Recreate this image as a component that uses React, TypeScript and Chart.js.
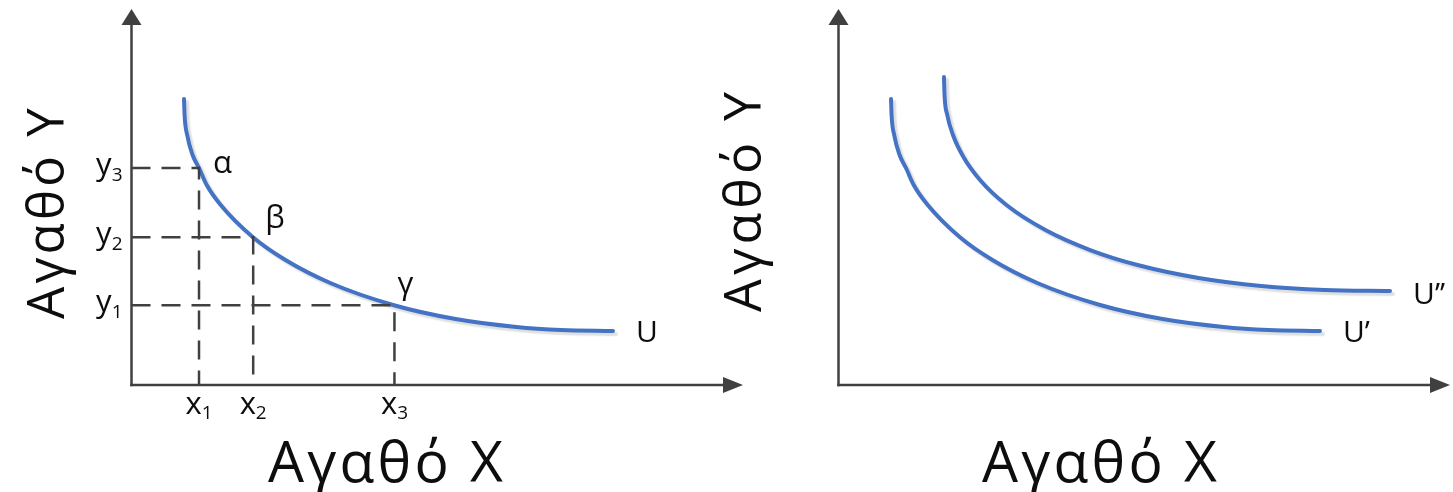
import React, { useEffect, useRef } from 'react';
import { Chart, registerables } from 'chart.js';

Chart.register(...registerables);

const FONT = '"Open Sans", "Noto Sans", "DejaVu Sans", sans-serif';
const BLUE = '#4472C4';
const DARK = '#404040';
const INK = '#0d0d0d';

// ---------- Left panel data ----------
const uX = [0.859, 0.868, 0.911, 0.999, 1.104, 1.23, 1.459, 1.982, 2.518, 3.251, 4.278, 5.3, 6.296, 7.03, 7.874];
const uY = [7.606, 7.181, 6.649, 6.117, 5.771, 5.319, 4.787, 3.936, 3.324, 2.713, 2.128, 1.755, 1.543, 1.463, 1.436];
// points α, β, γ on U : (x1,y3), (x2,y2), (x3,y1)
const guideX = [1.104, 1.99, 4.3];
const guideY = [5.771, 3.93, 2.12];
const pointNames = ['α', 'β', 'γ'];
const xTickMain = ['x', 'x', 'x'];
const xTickSub = ['1', '2', '3'];
const yTickMain = ['y', 'y', 'y'];
const yTickSub = ['3', '2', '1'];
const leftCurveNames = ['U'];

// ---------- Right panel data ----------
const u1X = [0.859, 0.868, 0.911, 0.999, 1.104, 1.23, 1.459, 1.982, 2.518, 3.251, 4.278, 5.3, 6.296, 7.03, 7.874];
const u1Y = [7.606, 7.181, 6.649, 6.117, 5.771, 5.319, 4.787, 3.936, 3.324, 2.713, 2.128, 1.755, 1.543, 1.463, 1.436];
const u2X = [1.725, 1.734, 1.779, 1.872, 2.043, 2.314, 2.747, 3.384, 4.116, 4.891, 5.889, 6.913, 7.951, 9.019];
const u2Y = [8.191, 7.713, 7.181, 6.649, 6.064, 5.452, 4.787, 4.122, 3.59, 3.191, 2.846, 2.633, 2.527, 2.5];
const rightCurveNames = ['U’', 'U’’'];

const xTitleText = 'Αγαθό Χ';
const yTitleText = 'Αγαθό Υ';

type Label = { x: number; y: number; text: string; dx: number; dy: number };
type Tick = { value: number; main: string; sub: string };
type Decor = {
  xTitle: { x: number; y: number; size: number; width: number };
  yTitle: { x: number; y: number; size: number; width: number };
  xTicks: Tick[];
  yTicks: Tick[];
  pointLabels: Label[];
  curveLabels: Label[];
};

function pts(xs: number[], ys: number[]) {
  return xs.map((x, i) => ({ x, y: ys[i] }));
}

function curveDataset(xs: number[], ys: number[]) {
  return {
    data: pts(xs, ys),
    showLine: true,
    borderColor: BLUE,
    borderWidth: 4,
    borderCapStyle: 'round',
    pointRadius: 0,
    cubicInterpolationMode: 'monotone',
    fill: false,
    shadow: true,
  };
}

function guideDataset(x: number, y: number) {
  return {
    data: [
      { x: 0, y },
      { x, y },
      { x, y: 0 },
    ],
    showLine: true,
    borderColor: DARK,
    borderWidth: 2.5,
    borderDash: [19, 11],
    pointRadius: 0,
    tension: 0,
    fill: false,
  };
}

function fitText(ctx: CanvasRenderingContext2D, text: string, size: number, width: number) {
  ctx.font = `${size}px ${FONT}`;
  (ctx as any).letterSpacing = '0px';
  const w = ctx.measureText(text).width;
  const n = Array.from(text).length;
  const ls = (width - w) / n;
  (ctx as any).letterSpacing = `${ls}px`;
}

function makeDecor(cfg: Decor) {
  return {
    id: 'panelDecor',
    beforeDatasetDraw(chart: any, args: any) {
      const ds = chart.data.datasets[args.index];
      if (ds.shadow) {
        const ctx = chart.ctx;
        ctx.save();
        ctx.shadowColor = 'rgba(0,0,0,0.13)';
        ctx.shadowBlur = 1.5;
        ctx.shadowOffsetX = 3;
        ctx.shadowOffsetY = 3;
      }
    },
    afterDatasetDraw(chart: any, args: any) {
      const ds = chart.data.datasets[args.index];
      if (ds.shadow) chart.ctx.restore();
    },
    afterDatasetsDraw(chart: any) {
      const ctx: CanvasRenderingContext2D = chart.ctx;
      const xs = chart.scales.x;
      const ys = chart.scales.y;
      const x0 = xs.getPixelForValue(xs.min);
      const xEnd = xs.getPixelForValue(xs.max);
      const y0 = ys.getPixelForValue(ys.min);
      const yEnd = ys.getPixelForValue(ys.max);

      ctx.save();
      // axes
      ctx.strokeStyle = DARK;
      ctx.fillStyle = DARK;
      ctx.lineWidth = 2.5;
      ctx.setLineDash([]);
      ctx.beginPath();
      ctx.moveTo(x0, y0 + 1.25);
      ctx.lineTo(x0, yEnd + 12);
      ctx.stroke();
      ctx.beginPath();
      ctx.moveTo(x0 - 1.25, y0);
      ctx.lineTo(xEnd - 14, y0);
      ctx.stroke();
      ctx.beginPath();
      ctx.moveTo(x0, yEnd);
      ctx.lineTo(x0 + 10, yEnd + 16);
      ctx.lineTo(x0 - 10, yEnd + 16);
      ctx.closePath();
      ctx.fill();
      ctx.beginPath();
      ctx.moveTo(xEnd, y0);
      ctx.lineTo(xEnd - 20, y0 - 8);
      ctx.lineTo(xEnd - 20, y0 + 8);
      ctx.closePath();
      ctx.fill();

      ctx.fillStyle = INK;
      ctx.textBaseline = 'alphabetic';
      (ctx as any).letterSpacing = '0px';

      const mainFont = `31px ${FONT}`;
      const subFont = `19px ${FONT}`;

      // y ticks (right aligned before axis)
      cfg.yTicks.forEach((t) => {
        const py = ys.getPixelForValue(t.value);
        ctx.font = mainFont;
        const w1 = ctx.measureText(t.main).width;
        ctx.font = subFont;
        const w2 = ctx.measureText(t.sub).width;
        const right = x0 - 9;
        ctx.textAlign = 'left';
        ctx.font = mainFont;
        ctx.fillText(t.main, right - w1 - w2, py + 7);
        ctx.font = subFont;
        ctx.fillText(t.sub, right - w2, py + 13);
      });

      // x ticks (centred below axis)
      cfg.xTicks.forEach((t) => {
        const px = xs.getPixelForValue(t.value);
        ctx.font = mainFont;
        const w1 = ctx.measureText(t.main).width;
        ctx.font = subFont;
        const w2 = ctx.measureText(t.sub).width;
        const start = px - (w1 + w2) / 2;
        ctx.textAlign = 'left';
        ctx.font = mainFont;
        ctx.fillText(t.main, start, y0 + 29);
        ctx.font = subFont;
        ctx.fillText(t.sub, start + w1, y0 + 34);
      });

      // point labels
      ctx.font = mainFont;
      ctx.textAlign = 'left';
      cfg.pointLabels.forEach((l) => {
        ctx.fillText(l.text, xs.getPixelForValue(l.x) + l.dx, ys.getPixelForValue(l.y) + l.dy);
      });

      // curve labels
      ctx.font = `30px ${FONT}`;
      cfg.curveLabels.forEach((l) => {
        ctx.fillText(l.text, xs.getPixelForValue(l.x) + l.dx, ys.getPixelForValue(l.y) + l.dy);
      });

      // x title
      fitText(ctx, xTitleText, cfg.xTitle.size, cfg.xTitle.width);
      ctx.textAlign = 'center';
      ctx.fillText(xTitleText, cfg.xTitle.x, cfg.xTitle.y);

      // y title (rotated)
      ctx.save();
      ctx.translate(cfg.yTitle.x, cfg.yTitle.y);
      ctx.rotate(-Math.PI / 2);
      fitText(ctx, yTitleText, cfg.yTitle.size, cfg.yTitle.width);
      ctx.textAlign = 'center';
      ctx.fillText(yTitleText, 0, 0);
      ctx.restore();

      ctx.restore();
    },
  };
}

function baseOptions(padding: any) {
  return {
    animation: false,
    responsive: false,
    maintainAspectRatio: false,
    devicePixelRatio: 1,
    layout: { padding },
    scales: {
      x: { type: 'linear', min: 0, max: 10, display: false },
      y: { type: 'linear', min: 0, max: 10, display: false },
    },
    plugins: { legend: { display: false }, tooltip: { enabled: false }, title: { display: false } },
    elements: { point: { radius: 0 } },
  };
}

function leftConfig(): any {
  const datasets: any[] = guideX.map((x, i) => guideDataset(x, guideY[i]));
  datasets.push(curveDataset(uX, uY));
  const decor: Decor = {
    xTitle: { x: 387, y: 482, size: 57, width: 238 },
    yTitle: { x: 64, y: 212, size: 51, width: 214 },
    xTicks: guideX.map((v, i) => ({ value: v, main: xTickMain[i], sub: xTickSub[i] })),
    yTicks: guideY.map((v, i) => ({ value: v, main: yTickMain[i], sub: yTickSub[i] })),
    pointLabels: [
      { x: guideX[0], y: guideY[0], text: pointNames[0], dx: 14, dy: 5 },
      { x: guideX[1], y: guideY[1], text: pointNames[1], dx: 12, dy: -9 },
      { x: guideX[2], y: guideY[2], text: pointNames[2], dx: 3, dy: -11 },
    ],
    curveLabels: [
      { x: uX[uX.length - 1], y: uY[uY.length - 1], text: leftCurveNames[0], dx: 23, dy: 11 },
    ],
  };
  return {
    type: 'scatter',
    data: { datasets },
    options: baseOptions({ left: 131.5, right: 7, top: 9, bottom: 107 }),
    plugins: [makeDecor(decor)],
  };
}

function rightConfig(): any {
  const datasets: any[] = [curveDataset(u1X, u1Y), curveDataset(u2X, u2Y)];
  const decor: Decor = {
    xTitle: { x: 401, y: 482, size: 57, width: 238 },
    yTitle: { x: 61, y: 200, size: 52, width: 224 },
    xTicks: [],
    yTicks: [],
    pointLabels: [],
    curveLabels: [
      { x: u1X[u1X.length - 1], y: u1Y[u1Y.length - 1], text: rightCurveNames[0], dx: 23, dy: 11 },
      { x: u2X[u2X.length - 1], y: u2Y[u2Y.length - 1], text: rightCurveNames[1], dx: 23, dy: 13 },
    ],
  };
  return {
    type: 'scatter',
    data: { datasets },
    options: baseOptions({ left: 138.5, right: 3, top: 9, bottom: 107 }),
    plugins: [makeDecor(decor)],
  };
}

function Panel({ left, width, build }: { left: number; width: number; build: () => any }) {
  const ref = useRef<HTMLCanvasElement>(null);
  useEffect(() => {
    const chart = new Chart(ref.current as HTMLCanvasElement, build());
    return () => chart.destroy();
  }, []);
  return (
    <canvas
      ref={ref}
      width={width}
      height={492}
      style={{ position: 'absolute', left, top: 0, width, height: 492 }}
    />
  );
}

export default function App() {
  return (
    <div
      style={{
        position: 'fixed',
        left: 0,
        top: 0,
        width: 1453,
        height: 492,
        background: '#ffffff',
        overflow: 'hidden',
      }}
    >
      <Panel left={0} width={750} build={leftConfig} />
      <Panel left={700} width={753} build={rightConfig} />
    </div>
  );
}
